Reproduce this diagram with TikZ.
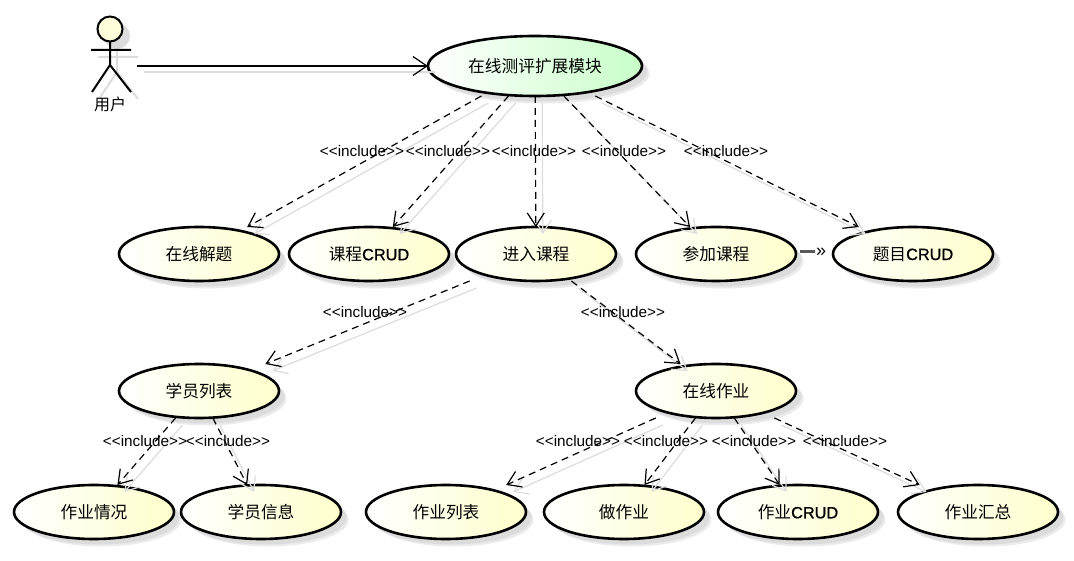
\documentclass[tikz,border=0pt]{standalone}
\usepackage{fontspec}
\setmainfont{Liberation Sans}
\newfontfamily\cjk{Noto Sans CJK SC}
\newfontfamily\crudfont[FakeBold=1]{Liberation Sans}
\usetikzlibrary{shapes.geometric,arrows.meta,shadows}
\definecolor{shadowgrey}{HTML}{DCDCDC}
\definecolor{softgrey}{HTML}{EBEBEB}
\definecolor{ucyellow}{HTML}{FFFFCC}
\definecolor{ucgreen}{HTML}{C8FFC8}
\tikzset{
  ucshape/.style={ellipse,draw=black,line width=2.6pt,inner sep=0pt,outer sep=0pt,
    left color=white,right color=ucyellow,
    general shadow={fill=softgrey,shadow xshift=7.5pt,shadow yshift=-7.5pt,draw=none},
    general shadow={fill=shadowgrey,shadow xshift=5.5pt,shadow yshift=-5.5pt,draw=none}},
  ucbox/.style={rectangle,draw=none,inner sep=0pt,outer sep=0pt,font=\fontsize{16.7}{18}\selectfont},
  inc/.style={black,line width=1.2pt,dash pattern=on 7pt off 5pt,
    -{Straight Barb[length=13pt,width=17pt,line width=1.2pt]}},
  incshadow/.style={shadowgrey,line width=1.2pt,transform canvas={xshift=7pt,yshift=-7pt},
    -{Straight Barb[length=13pt,width=17pt,line width=1.2pt]}},
  assoc/.style={black,line width=1.2pt,-{Straight Barb[length=14pt,width=19pt,line width=1.2pt]}},
  assocshadow/.style={shadowgrey,line width=1.2pt,transform canvas={xshift=7pt,yshift=-6pt}},
  inclabel/.style={inner sep=0pt,font=\fontsize{15.3}{17}\selectfont},
  actorline/.style={black,line width=2pt},
  actorshadow/.style={shadowgrey,line width=2pt},
}
\newcommand{\usecase}[6][]{%
  \node[ucshape,minimum width=#4pt,minimum height=#5pt,#1] (#2-e) at (#3) {};
  \node[ucbox,minimum width=#4pt,minimum height=#5pt] (#2) at (#3) {\raisebox{-1pt}{#6}};
}
\newcommand{\zh}[1]{{\cjk #1}}
\newcommand{\crud}{{\crudfont\fontsize{16.3}{18}\selectfont CRUD}}
\begin{document}
\begin{tikzpicture}[x=1pt,y=-1pt]
\useasboundingbox (0,0) rectangle (1074,561);
% actor shadow
\fill[shadowgrey] (117,36) circle (13);
\draw[actorshadow] (98,57) -- (138,57) (117,48) -- (117,72) -- (99,99) (117,72) -- (138,99);
% actor
\node[circle,draw=black,line width=2pt,fill=ucyellow!70,minimum size=25pt,inner sep=0pt,outer sep=0pt] (userhead) at (110,29) {};
\draw[actorline] (91,50) -- (131,50) (userhead.south) -- (110,65) -- (92,92) (110,65) -- (131,92);
\node[inner sep=0pt,font=\fontsize{16}{17}\selectfont] (user) at (110,104) {\zh{用户}};
\coordinate (userport) at (137,66);
% use cases
\usecase[right color=ucgreen]{top}{535,66}{214}{60}{\zh{在线测评扩展模块}}
\usecase{solve}{199,254}{160}{54}{\zh{在线解题}}
\usecase{course}{369,254}{160}{54}{\zh{课程}\crud}
\usecase{enter}{536,254}{160}{54}{\zh{进入课程}}
\usecase{join}{716,254}{160}{54}{\zh{参加课程}}
\usecase{question}{913,254}{160}{54}{\zh{题目}\crud}
\usecase{students}{199,391}{160}{54}{\zh{学员列表}}
\usecase{homework}{716,391}{160}{54}{\zh{在线作业}}
\usecase{hwstate}{94,512}{160}{54}{\zh{作业情况}}
\usecase{stuinfo}{261,512}{160}{54}{\zh{学员信息}}
\usecase{hwlist}{446,512}{160}{54}{\zh{作业列表}}
\usecase{dohw}{624,512}{160}{54}{\zh{做作业}}
\usecase{hwcrud}{798,512}{160}{54}{\zh{作业}\crud}
\usecase{hwsum}{978,512}{160}{54}{\zh{作业汇总}}
% connector shadows
\draw[assocshadow] (userport) -- (top.west);
\foreach \a/\b in {top/solve,top/course,top/enter,top/join,top/question,enter/students,enter/homework,students/hwstate,students/stuinfo,homework/hwlist,homework/dohw,homework/hwcrud,homework/hwsum}
  \draw[incshadow] (\a) -- (\b);
% connectors
\draw[assoc] (userport) -- (top.west);
\foreach \a/\b in {top/solve,top/course,top/enter,top/join,top/question,enter/students,enter/homework,students/hwstate,students/stuinfo,homework/hwlist,homework/dohw,homework/hwcrud,homework/hwsum}
  \draw[inc] (\a) -- (\b);
\draw[line width=3pt,black!65,shorten <=4pt,shorten >=18pt] ([yshift=2pt]join.east) -- ([yshift=2pt]question.west);
\node[inner sep=0pt,font=\fontsize{18}{18}\selectfont] (chevron) at (821,252.5) {»};
% labels
\node[inclabel] (l1) at (362,151) {<{}<include>{}>};
\node[inclabel] (l2) at (448,151) {<{}<include>{}>};
\node[inclabel] (l3) at (534,151) {<{}<include>{}>};
\node[inclabel] (l4) at (624,151) {<{}<include>{}>};
\node[inclabel] (l5) at (726,151) {<{}<include>{}>};
\node[inclabel] (l6) at (365,312) {<{}<include>{}>};
\node[inclabel] (l7) at (623,312) {<{}<include>{}>};
\node[inclabel] (l8) at (145,441) {<{}<include>{}>};
\node[inclabel] (l9) at (228,441) {<{}<include>{}>};
\node[inclabel] (l10) at (578,441) {<{}<include>{}>};
\node[inclabel] (l11) at (666,441) {<{}<include>{}>};
\node[inclabel] (l12) at (754,441) {<{}<include>{}>};
\node[inclabel] (l13) at (845,441) {<{}<include>{}>};
\end{tikzpicture}
\end{document}
